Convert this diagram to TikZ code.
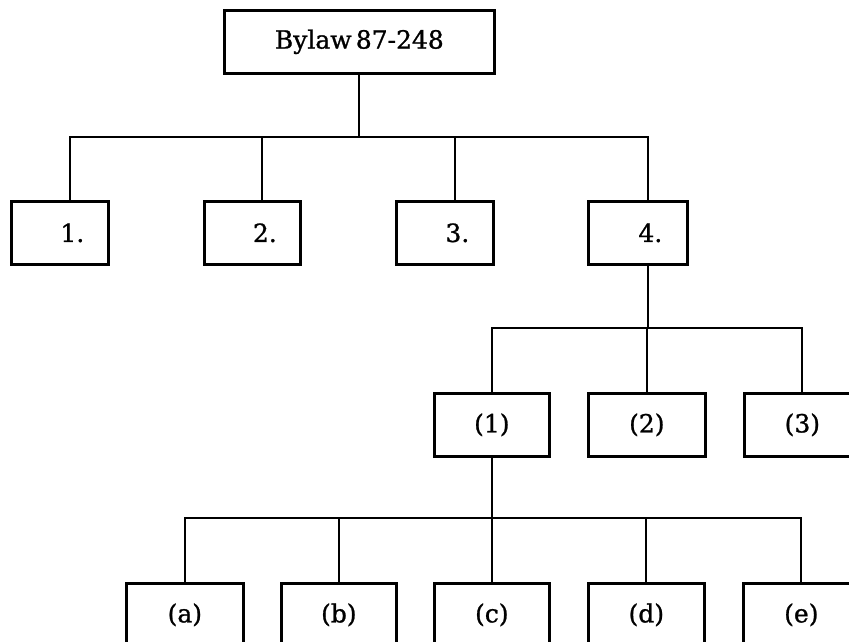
\documentclass[tikz,border=0pt]{standalone}
\usepackage{fontspec}
\setmainfont{DejaVu Serif}[FakeBold=1]
\begin{document}
\begin{tikzpicture}[x=1pt,y=-1pt,
  box/.style={draw, line width=2.7pt, minimum height=63pt, inner sep=0pt,
    anchor=north west, font=\fontsize{25}{29}\selectfont},
  wire/.style={line width=1.9pt}]
\useasboundingbox (0,0) rectangle (849,642);
\clip (0,0) rectangle (849,642);

% root
\node[box, minimum width=270pt] (top) at (223,9) {Bylaw\,87-248};

% sections
\node[box, minimum width=97pt] (n1) at (10,200)  {\hspace*{25pt}1.};
\node[box, minimum width=96pt] (n2) at (203,200) {\hspace*{25pt}2.};
\node[box, minimum width=97pt] (n3) at (395,200) {\hspace*{25pt}3.};
\node[box, minimum width=99pt] (n4) at (587,200) {\hspace*{25pt}4.};

% subsections of 4.
\node[box, minimum width=115pt] (p1) at (433,392) {(1)};
\node[box, minimum width=117pt] (p2) at (587,392) {(2)};
\node[box, minimum width=116pt] (p3) at (743,392) {(3)};

% paragraphs of (1)
\node[box, minimum width=117pt] (qa) at (125,582) {(a)};
\node[box, minimum width=115pt] (qb) at (280,582) {(b)};
\node[box, minimum width=115pt] (qc) at (433,582) {(c)};
\node[box, minimum width=116pt] (qd) at (587,582) {(d)};
\node[box, minimum width=116pt] (qe) at (742,582) {(e)};

% stems and bus levels
\coordinate (bus1) at (0,137);
\coordinate (bus2) at (0,328);
\coordinate (bus3) at (0,518);
\coordinate (s1) at ([xshift=10pt]n1.north);
\coordinate (s2) at ([xshift=10pt]n2.north);
\coordinate (s3) at ([xshift=10pt]n3.north);
\coordinate (s4) at ([xshift=10pt]n4.north);
\coordinate (d4) at ([xshift=10pt]n4.south);

% root to sections
\draw[wire] (top.south) -- (top.south |- bus1);
\draw[wire] (s1) -- (s1 |- bus1) -- (s4 |- bus1) -- (s4);
\draw[wire] (s2) -- (s2 |- bus1);
\draw[wire] (s3) -- (s3 |- bus1);

% 4. to subsections
\draw[wire] (d4) -- (d4 |- bus2);
\draw[wire] (p1.north) -- (p1.north |- bus2) -- (p3.north |- bus2) -- (p3.north);
\draw[wire] (p2.north) -- (p2.north |- bus2);

% (1) to paragraphs
\draw[wire] (p1.south) -- (p1.south |- bus3);
\draw[wire] (qa.north) -- (qa.north |- bus3) -- (qe.north |- bus3) -- (qe.north);
\draw[wire] (qb.north) -- (qb.north |- bus3);
\draw[wire] (qc.north) -- (qc.north |- bus3);
\draw[wire] (qd.north) -- (qd.north |- bus3);
\end{tikzpicture}
\end{document}
